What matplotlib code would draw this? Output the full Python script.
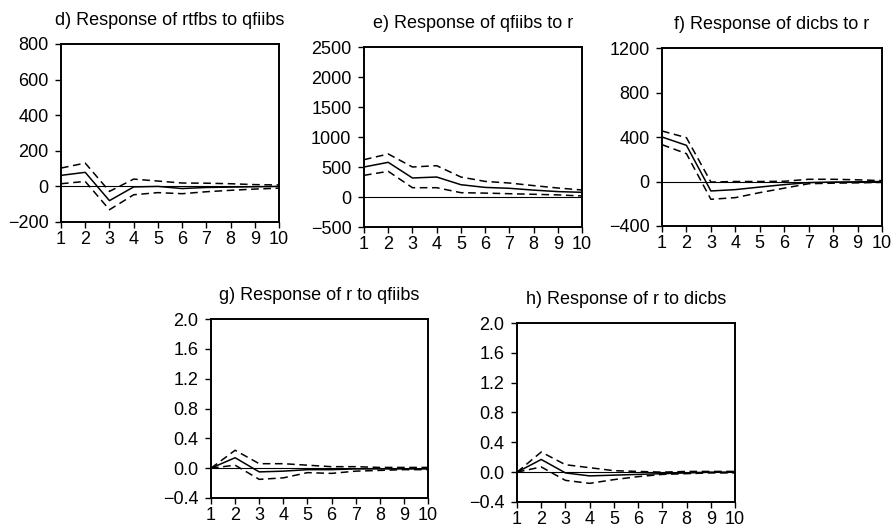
import matplotlib
matplotlib.use("Agg")
import matplotlib.pyplot as plt

W, H = 891, 531
periods = list(range(1, 11))

# d) Response of rtfbs to qfiibs
d_mid = [62, 79, -80, -3, 0, -12, -6, -4, -2, 0]
d_up = [103, 131, -28, 41, 30, 19, 18, 15, 10, 8]
d_lo = [15, 28, -131, -47, -35, -41, -30, -22, -15, -10]

# e) Response of qfiibs to r
e_mid = [500, 578, 317, 333, 205, 160, 145, 115, 90, 78]
e_up = [622, 717, 500, 522, 333, 260, 233, 190, 150, 117]
e_lo = [361, 428, 155, 155, 72, 65, 55, 45, 35, 17]

# f) Response of dicbs to r
f_mid = [400, 325, -85, -73, -50, -28, -10, -5, -3, 0]
f_up = [454, 394, -5, 0, 0, 2, 20, 20, 15, 8]
f_lo = [331, 250, -160, -145, -100, -60, -20, -15, -12, -8]

# g) Response of r to qfiibs
g_mid = [0, 0.14, -0.05, -0.04, -0.02, -0.02, -0.01, -0.01, -0.01, -0.01]
g_up = [0, 0.24, 0.06, 0.06, 0.04, 0.02, 0.02, 0.01, 0.01, 0.01]
g_lo = [0, 0.04, -0.15, -0.13, -0.06, -0.07, -0.04, -0.03, -0.02, -0.02]

# h) Response of r to dicbs
h_mid = [0, 0.17, -0.01, -0.05, -0.04, -0.03, -0.02, -0.01, 0, 0]
h_up = [0, 0.27, 0.10, 0.06, 0.02, 0.01, 0.0, 0.01, 0.01, 0.01]
h_lo = [0, 0.07, -0.11, -0.15, -0.10, -0.06, -0.03, -0.02, -0.01, -0.01]

d_ticks = [-200, 0, 200, 400, 600, 800]
e_ticks = [-500, 0, 500, 1000, 1500, 2000, 2500]
f_ticks = [-400, 0, 400, 800, 1200]
r_ticks = [-0.4, 0.0, 0.4, 0.8, 1.2, 1.6, 2.0]

panels = [
    ("d) Response of rtfbs to qfiibs", d_mid, d_up, d_lo, d_ticks, (61, 279, 44, 222), "int"),
    ("e) Response of qfiibs to r", e_mid, e_up, e_lo, e_ticks, (364, 582, 47, 227), "int"),
    ("f) Response of dicbs to r", f_mid, f_up, f_lo, f_ticks, (662, 882, 48, 226), "int"),
    ("g) Response of r to qfiibs", g_mid, g_up, g_lo, r_ticks, (211, 428, 319, 498), "float"),
    ("h) Response of r to dicbs", h_mid, h_up, h_lo, r_ticks, (517, 735, 323, 502), "float"),
]

plt.rcParams['font.family'] = ['Liberation Sans', 'DejaVu Sans']
fig = plt.figure(figsize=(W / 100, H / 100), dpi=100)
fig.patch.set_facecolor('white')

for title, mid, up, lo, ticks, (l, r, t, b), kind in panels:
    ax = fig.add_axes([l / W, 1 - b / H, (r - l) / W, (b - t) / H])
    ax.axhline(0, color='black', lw=0.8)
    ax.plot(periods, mid, color='black', lw=1.1)
    ax.plot(periods, up, color='black', lw=1.1, linestyle=(0, (5, 3)))
    ax.plot(periods, lo, color='black', lw=1.1, linestyle=(0, (5, 3)))
    ax.set_xlim(1, 10)
    ax.set_ylim(ticks[0], ticks[-1])
    ax.set_xticks(periods)
    ax.set_yticks(ticks)
    if kind == "int":
        labels = [("\u2212%d" % -v) if v < 0 else "%d" % v for v in ticks]
    else:
        labels = [("\u2212%.1f" % -v) if v < 0 else "%.1f" % v for v in ticks]
    ax.set_yticklabels(labels)
    ax.tick_params(direction='out', length=4, width=1, labelsize=13)
    ax.tick_params(axis='y', pad=5)
    ax.tick_params(axis='x', pad=2.5)
    for s in ax.spines.values():
        s.set_linewidth(1.4)
    ax.set_title(title, fontsize=13, pad=14)

fig.savefig("out.png", dpi=100)
